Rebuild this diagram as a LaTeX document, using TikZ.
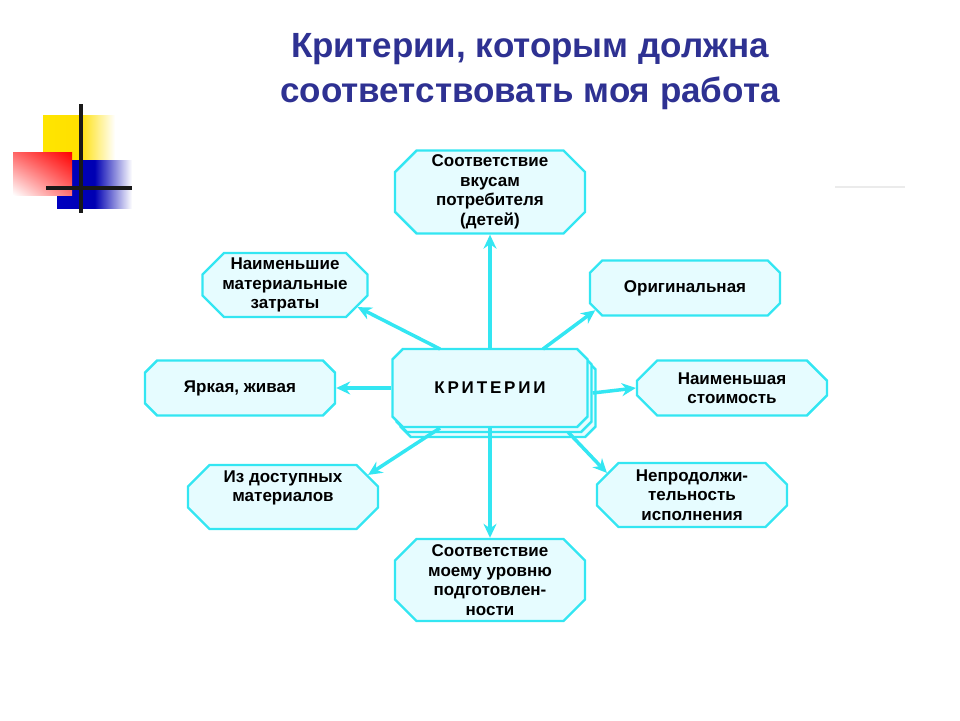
\documentclass[tikz,border=0pt]{standalone}
\usepackage{fontspec}
\setmainfont{Liberation Sans}
\usetikzlibrary{shapes.misc,arrows.meta,shadings}
\definecolor{cy}{HTML}{33E6F2}
\definecolor{cyfill}{HTML}{E6FCFF}
\definecolor{ttl}{HTML}{2E3192}
\tikzset{
 oct/.style={chamfered rectangle, chamfered rectangle xsep=18pt, draw=cy, fill=cyfill, line width=2.4pt,
   minimum width=#1, inner sep=1pt, align=center, font=\bfseries\fontsize{17}{19.5}\selectfont},
 oct/.default=190pt,
 arr/.style={draw=cy, line width=3.5pt, -{Stealth[length=14pt,width=13pt]}}
}
\begin{document}
\begin{tikzpicture}[x=1pt,y=-1pt]
\useasboundingbox (0,0) rectangle (960,720);
% decoration
\shade[left color=yellow!80!orange, right color=white, middle color=yellow!75!orange] (43,115) rectangle (115,160);
\shade[left color=blue!75!black, right color=white, middle color=blue!70!black] (57,160) rectangle (132,208);
\shade[lower left=white, upper right=red, upper left=red!60, lower right=red!55] (13,152) rectangle (72,195);
\draw[line width=3.5pt, black!90] (81,104) -- (81,213);
\draw[line width=3.5pt, black!90] (46,188) -- (132,188);
\draw[line width=2pt, black!8] (835,187) -- (905,187);
% title
\node[font=\bfseries\fontsize{35}{45}\selectfont, text=ttl, align=center] (title) at (530,72) {Критерии, которым должна\\соответствовать моя работа};
% center
\node[oct=195pt, minimum height=78pt] (c3) at (498,398) {\phantom{КРИТЕРИИ}};
\node[oct=195pt, minimum height=78pt] (c2) at (494,393) {\phantom{КРИТЕРИИ}};
\node[oct=195pt, minimum height=78pt, font=\bfseries\fontsize{17}{19}\selectfont] (c) at (490,388) {К\,Р\,И\,Т\,Е\,Р\,И\,И};
% outer nodes
\node[oct, minimum height=80pt] (t) at (490,192) {Соответствие\\вкусам\\потребителя\\(детей)};
\node[oct=165pt, minimum height=64pt] (nm) at (285,285) {Наименьшие\\материальные\\затраты};
\node[oct, minimum height=55pt] (or) at (685,288) {Оригинальная};
\node[oct, minimum height=55pt] (ya) at (240,388) {Яркая, живая};
\node[oct, minimum height=55pt] (ns) at (732,388) {Наименьшая\\стоимость};
\node[oct, minimum height=64pt, text depth=22pt] (iz) at (283,497) {Из доступных\\материалов};
\node[oct, minimum height=64pt] (np) at (692,495) {Непродолжи-\\тельность\\исполнения};
\node[oct, minimum height=82pt] (b) at (490,580) {Соответствие\\моему уровню\\подготовлен-\\ности};
% arrows
\draw[arr] (c.north) -- (t.south);
\draw[arr] (c.south) -- (b.north);
\draw[arr] (c.west) -- (ya.east);
\draw[arr] (c2.east) -- (ns.west);
\draw[arr] (440,349) -- (nm.south east);
\draw[arr] (543,349) -- (or.south west);
\draw[arr] (440,428) -- (iz.north east);
\draw[arr] (568,432) -- (np.north west);
\end{tikzpicture}
\end{document}
